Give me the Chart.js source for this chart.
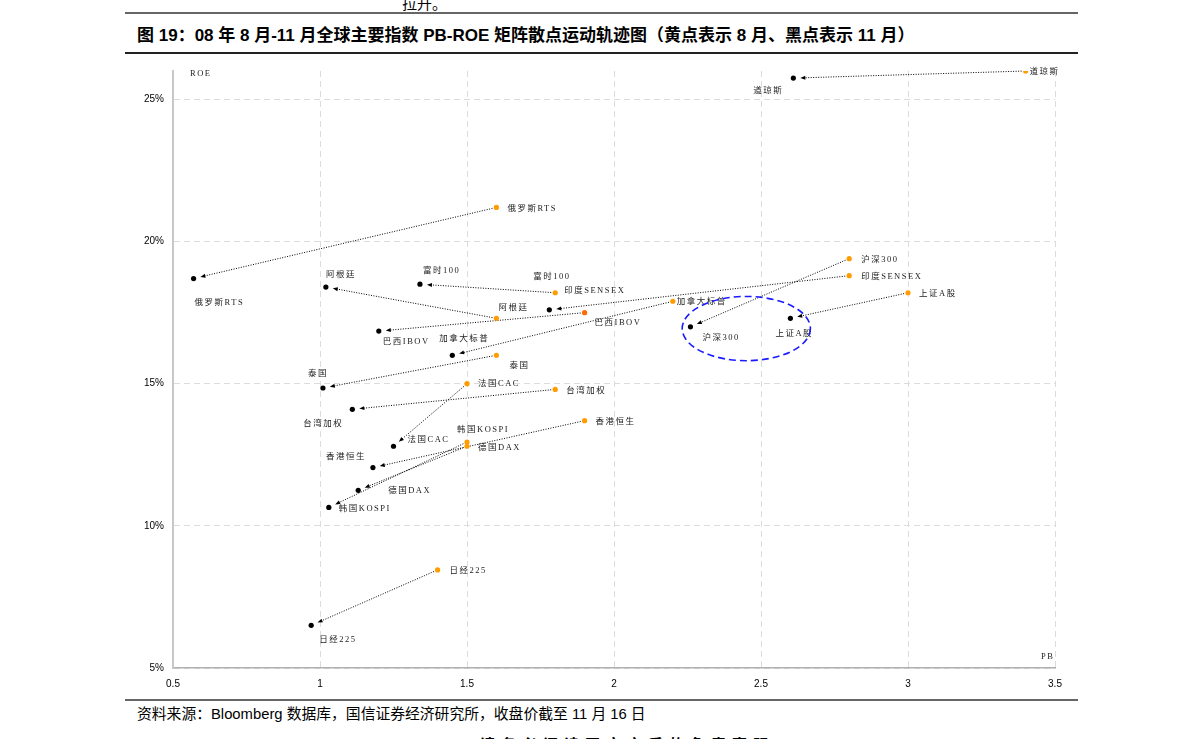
<!DOCTYPE html>
<html>
<head>
<meta charset="utf-8">
<script src="https://cdn.jsdelivr.net/npm/chart.js@4.4.0/dist/chart.umd.min.js"></script>
<style>
  body { margin: 0; width: 1191px; height: 739px; overflow: hidden; background: #fff; position: relative;
         font-family: "Liberation Sans", "Noto Sans CJK SC", sans-serif; color: #000; }
  .rule { position: absolute; left: 125px; width: 953px; }
  .txt { position: absolute; white-space: nowrap; }
  #wrap { position: absolute; left: 120px; top: 56px; width: 960px; height: 644px; }
</style>
</head>
<body>
<div class="txt" style="left:402px;top:-8px;font-size:15px;font-family:'Noto Sans CJK SC';">拉升。</div>
<div class="rule" style="top:12px;height:2px;background:#666;"></div>
<div class="txt" style="left:137px;top:21px;font-size:17px;font-weight:bold;font-family:'Liberation Sans','Noto Sans CJK SC';">图 19：08 年 8 月-11 月全球主要指数 PB-ROE 矩阵散点运动轨迹图（黄点表示 8 月、黑点表示 11 月）</div>
<div class="rule" style="top:52px;height:1.5px;background:#222;"></div>
<div id="wrap"><canvas id="chart"></canvas></div>
<div class="rule" style="top:699px;height:2px;background:#666;"></div>
<div class="txt" style="left:137px;top:702px;font-size:14.8px;">资料来源：Bloomberg 数据库，国信证券经济研究所，收盘价截至 11 月 16 日</div>
<div class="txt" style="left:480px;top:733px;font-size:15px;font-weight:bold;letter-spacing:6px;font-family:'Noto Sans CJK SC';">请务必阅读正文之后的免责声明</div>

<script>
// 指数名称
const names = ["道琼斯", "俄罗斯RTS", "沪深300", "印度SENSEX", "上证A股", "富时100", "阿根廷", "巴西IBOV",
  "加拿大标普", "泰国", "法国CAC", "台湾加权", "香港恒生", "韩国KOSPI", "德国DAX", "日经225"];

// 8 月 (黄点)
const augPB  = [3.40, 1.60, 2.80, 2.80, 3.00, 1.80, 1.60, 1.90, 2.20, 1.60, 1.50, 1.80, 1.90, 1.50, 1.50, 1.40];
const augROE = [26.0, 21.2, 19.4, 18.8, 18.2, 18.2, 17.3, 17.5, 17.9, 16.0, 15.0, 14.8, 13.7, 12.95, 12.8, 8.45];

// 11 月 (黑点)
const novPB  = [2.61, 0.57, 2.26, 1.78, 2.60, 1.34, 1.02, 1.20, 1.45, 1.01, 1.25, 1.11, 1.18, 1.03, 1.13, 0.97];
const novROE = [25.75, 18.7, 17.0, 17.6, 17.3, 18.5, 18.4, 16.85, 16.0, 14.85, 12.8, 14.1, 12.05, 10.65, 11.25, 6.5];

// 坐标轴刻度
const xTicks = [0.5, 1, 1.5, 2, 2.5, 3, 3.5];
const yTicks = [5, 10, 15, 20, 25];

// 标注位置 (相对点的偏移, 像素)
const labelPos = [
  { p: "aug", i: 0, n: 0, dx: 4, dy: 1 },   { p: "nov", i: 0, n: 0, dx: -40, dy: 13 },
  { p: "aug", i: 1, n: 1, dx: 11, dy: 1 },  { p: "nov", i: 1, n: 1, dx: 1, dy: 24 },
  { p: "aug", i: 2, n: 2, dx: 12, dy: 1 },  { p: "nov", i: 2, n: 2, dx: 12, dy: 11 },
  { p: "aug", i: 3, n: 3, dx: 12, dy: 1 },
  { p: "aug", i: 4, n: 4, dx: 11, dy: 1 },  { p: "nov", i: 4, n: 4, dx: -15, dy: 15 },
  { p: "aug", i: 5, n: 5, dx: -22, dy: -16 }, { p: "aug", i: 5, n: 3, dx: 9, dy: -2 },
  { p: "nov", i: 5, n: 5, dx: 3, dy: -13 },
  { p: "aug", i: 6, n: 6, dx: 2, dy: -11 }, { p: "nov", i: 6, n: 6, dx: 0, dy: -12 },
  { p: "aug", i: 7, n: 7, dx: 10, dy: 10 }, { p: "nov", i: 7, n: 7, dx: 4, dy: 11 },
  { p: "aug", i: 8, n: 8, dx: 4, dy: 0 },   { p: "nov", i: 8, n: 8, dx: -13, dy: -17 },
  { p: "aug", i: 9, n: 9, dx: 13, dy: 10 }, { p: "nov", i: 9, n: 9, dx: -15, dy: -14 },
  { p: "aug", i: 10, n: 10, dx: 11, dy: 0 }, { p: "nov", i: 10, n: 10, dx: 14, dy: -6 },
  { p: "aug", i: 11, n: 11, dx: 11, dy: 1 }, { p: "nov", i: 11, n: 11, dx: -49, dy: 14 },
  { p: "aug", i: 12, n: 12, dx: 11, dy: 1 }, { p: "nov", i: 12, n: 12, dx: -47, dy: -11 },
  { p: "aug", i: 13, n: 13, dx: -10, dy: -12 }, { p: "nov", i: 13, n: 13, dx: 10, dy: 1 },
  { p: "aug", i: 14, n: 14, dx: 11, dy: 2 }, { p: "nov", i: 14, n: 14, dx: 30, dy: 0 },
  { p: "aug", i: 15, n: 15, dx: 12, dy: 1 }, { p: "nov", i: 15, n: 15, dx: 8, dy: 14 }
];

// 蓝色虚线圈 (数据单位)
const ringCenter = [2.45, 16.94];
const ringRadius = [0.218, 1.13];

const augColors = names.map((n, i) => i === 7 ? "#ff6a00" : "#ff9c00");
const labelFont = '8.5px "Liberation Serif", "Noto Sans CJK SC", serif';

// 箭头 + 标注 + 圈
const trackPlugin = {
  id: "track",
  beforeDatasetsDraw(chart) {
    const ctx = chart.ctx, xs = chart.scales.x, ys = chart.scales.y;
    ctx.save();
    for (let i = 0; i < names.length; i++) {
      const x0 = xs.getPixelForValue(augPB[i]), y0 = ys.getPixelForValue(augROE[i]);
      const x1 = xs.getPixelForValue(novPB[i]), y1 = ys.getPixelForValue(novROE[i]);
      const L = Math.hypot(x1 - x0, y1 - y0);
      const ux = (x1 - x0) / L, uy = (y1 - y0) / L;
      const tx = x1 - ux * 7, ty = y1 - uy * 7;
      ctx.strokeStyle = "#000";
      ctx.lineWidth = 1;
      ctx.setLineDash([1, 1.5]);
      ctx.beginPath();
      ctx.moveTo(x0 + ux * 4, y0 + uy * 4);
      ctx.lineTo(tx - ux * 3, ty - uy * 3);
      ctx.stroke();
      ctx.setLineDash([]);
      ctx.fillStyle = "#000";
      ctx.beginPath();
      ctx.moveTo(tx, ty);
      ctx.lineTo(tx - ux * 5 - uy * 2, ty - uy * 5 + ux * 2);
      ctx.lineTo(tx - ux * 5 + uy * 2, ty - uy * 5 - ux * 2);
      ctx.closePath();
      ctx.fill();
    }
    ctx.restore();
  },
  afterDatasetsDraw(chart) {
    const ctx = chart.ctx, xs = chart.scales.x, ys = chart.scales.y, a = chart.chartArea;
    ctx.save();
    ctx.font = labelFont;
    ctx.letterSpacing = "1.5px";
    ctx.fillStyle = "#222";
    ctx.textAlign = "left";
    ctx.textBaseline = "middle";
    labelPos.forEach(l => {
      const px = l.p === "aug" ? augPB[l.i] : novPB[l.i];
      const py = l.p === "aug" ? augROE[l.i] : novROE[l.i];
      ctx.fillText(names[l.n], xs.getPixelForValue(px) + l.dx, ys.getPixelForValue(py) + l.dy);
    });
    ctx.fillText("ROE", a.left + 17, a.top + 3);
    ctx.fillText("PB", a.right - 14, a.bottom - 11);

    const cx = xs.getPixelForValue(ringCenter[0]), cy = ys.getPixelForValue(ringCenter[1]);
    const rx = xs.getPixelForValue(ringCenter[0] + ringRadius[0]) - cx;
    const ry = cy - ys.getPixelForValue(ringCenter[1] + ringRadius[1]);
    ctx.strokeStyle = "#1a1aff";
    ctx.lineWidth = 1.6;
    ctx.setLineDash([7, 4]);
    ctx.beginPath();
    ctx.ellipse(cx, cy, rx, ry, 0, 0, Math.PI * 2);
    ctx.stroke();
    ctx.restore();
  }
};

new Chart(document.getElementById("chart"), {
  type: "scatter",
  data: {
    datasets: [
      {
        label: "8月",
        data: augPB.map((v, i) => ({ x: v, y: augROE[i] })),
        backgroundColor: augColors,
        borderWidth: 0,
        pointRadius: 2.6
      },
      {
        label: "11月",
        data: novPB.map((v, i) => ({ x: v, y: novROE[i] })),
        backgroundColor: "#000",
        borderWidth: 0,
        pointRadius: 2.6
      }
    ]
  },
  options: {
    responsive: true,
    maintainAspectRatio: false,
    animation: false,
    layout: { padding: { top: 6, right: 25, left: 0, bottom: 0 } },
    plugins: { legend: { display: false }, tooltip: { enabled: false } },
    scales: {
      x: {
        type: "linear",
        min: 0.5,
        max: 3.5,
        afterBuildTicks: s => { s.ticks = xTicks.map(v => ({ value: v })); },
        afterFit: s => { s.height = 32; },
        ticks: {
          padding: 10,
          color: "#000",
          font: { family: "Liberation Sans", size: 10 },
          callback: v => String(v)
        },
        grid: { color: "#dcdcdc", lineWidth: 1, drawTicks: false },
        border: { display: true, color: "#b0b0b0", width: 1.5, dash: [6, 4] }
      },
      y: {
        type: "linear",
        min: 5,
        max: 26,
        afterBuildTicks: s => { s.ticks = yTicks.map(v => ({ value: v })); },
        afterFit: s => { s.width = 53; },
        ticks: {
          padding: 9,
          color: "#000",
          font: { family: "Liberation Sans", size: 10 },
          callback: v => v + "%"
        },
        grid: { color: "#dcdcdc", lineWidth: 1, drawTicks: false },
        border: { display: true, color: "#c8c8c8", width: 2, dash: [6, 4] }
      }
    }
  },
  plugins: [trackPlugin]
});
</script>
</body>
</html>
